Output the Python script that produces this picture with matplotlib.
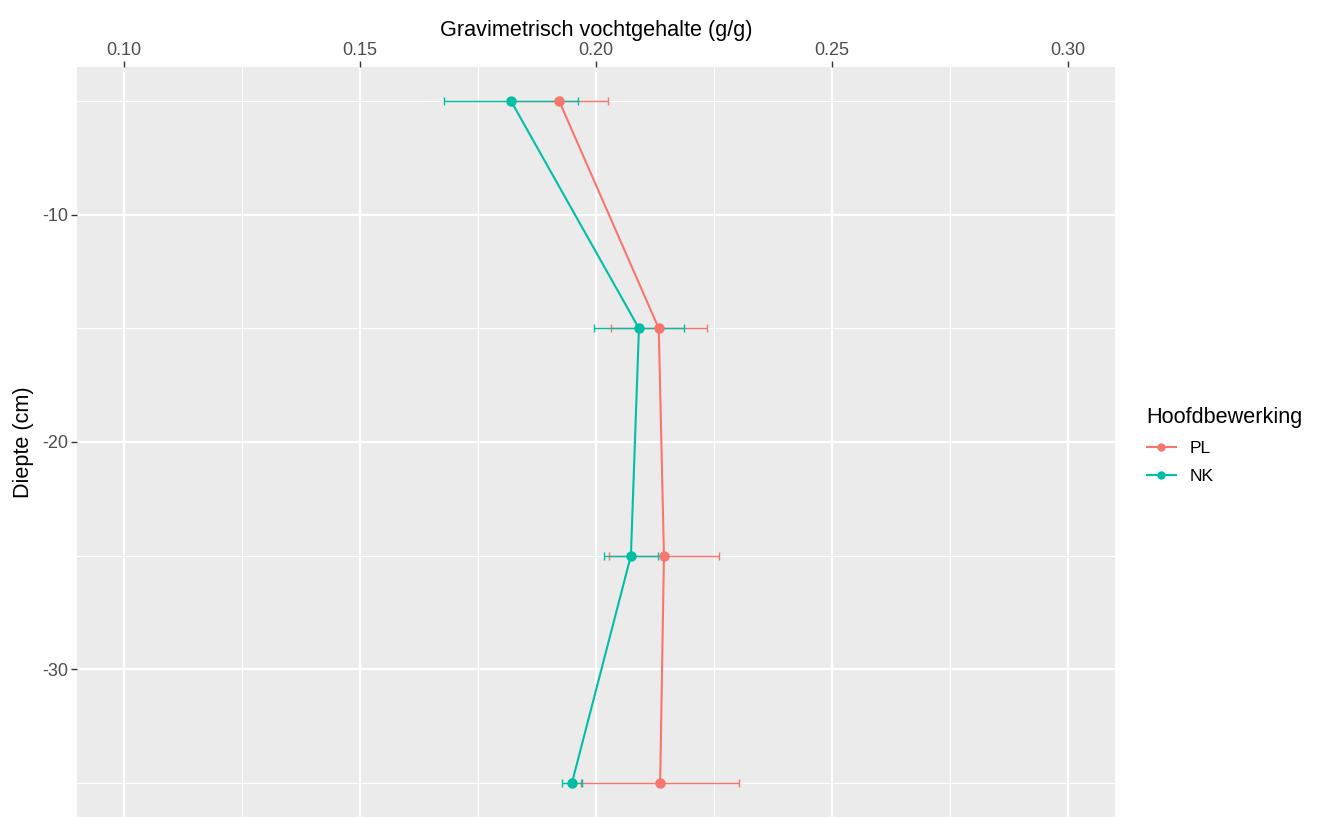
import numpy as np
import matplotlib.pyplot as plt
from matplotlib.lines import Line2D

plt.rcParams['font.family'] = ['Liberation Sans', 'DejaVu Sans']
plt.rcParams['axes.unicode_minus'] = False

# moisture profile per main tillage treatment
depth = [-5, -15, -25, -35]
pl_mean = [0.1922, 0.2133, 0.2144, 0.2136]
pl_err = [0.0104, 0.0102, 0.0117, 0.0167]
nk_mean = [0.1820, 0.2091, 0.2074, 0.1949]
nk_err = [0.0142, 0.0095, 0.0057, 0.0021]

treatments = ["PL", "NK"]
colors = {"PL": "#F8766D", "NK": "#00BFA4"}

fig = plt.figure(figsize=(13.19, 8.17), dpi=100)
ax = fig.add_axes([77/1319, 0.0, (1115-77)/1319, 1 - 67/817])
ax.set_facecolor("#EBEBEB")
for s in ax.spines.values():
    s.set_visible(False)

ax.set_xlim(0.09, 0.31)
ax.set_ylim(-36.5, -3.5)
ax.set_xticks([0.10, 0.15, 0.20, 0.25, 0.30])
ax.set_xticklabels(["0.10", "0.15", "0.20", "0.25", "0.30"])
ax.set_xticks([0.125, 0.175, 0.225, 0.275], minor=True)
ax.set_yticks([-10, -20, -30])
ax.set_yticks([-5, -15, -25, -35], minor=True)
ax.grid(which="major", color="white", lw=1.6)
ax.grid(which="minor", color="white", lw=0.8)
ax.set_axisbelow(True)

ax.xaxis.tick_top()
ax.xaxis.set_label_position("top")
ax.tick_params(which="major", length=4, width=1, color="#333333",
               labelcolor="#4D4D4D", labelsize=13, pad=2)
ax.tick_params(which="minor", length=0)

ax.set_xlabel("Gravimetrisch vochtgehalte (g/g)", fontsize=15.6, labelpad=4)
ax.set_ylabel("Diepte (cm)", fontsize=15.6, labelpad=6)

series = {"PL": (pl_mean, pl_err), "NK": (nk_mean, nk_err)}
for name in treatments:
    m, e = series[name]
    c = colors[name]
    ax.errorbar(m, depth, xerr=e, fmt="none", ecolor=c, elinewidth=1.0,
                capsize=3, capthick=1.0, zorder=3)
    ax.plot(m, depth, color=c, lw=1.5, marker="o", ms=6.5, zorder=4)

handles = [Line2D([0], [0], color=colors[n], lw=1.5, marker="o", ms=5)
           for n in treatments]
leg = fig.legend(handles, treatments, title="Hoofdbewerking",
                 loc="center left", bbox_to_anchor=(1131/1319, 0.455),
                 frameon=False, fontsize=12.5, title_fontsize=15.6,
                 handlelength=1.7, handletextpad=0.8, labelspacing=0.75)
leg._legend_box.align = "left"

fig.savefig("out.png", dpi=100)
